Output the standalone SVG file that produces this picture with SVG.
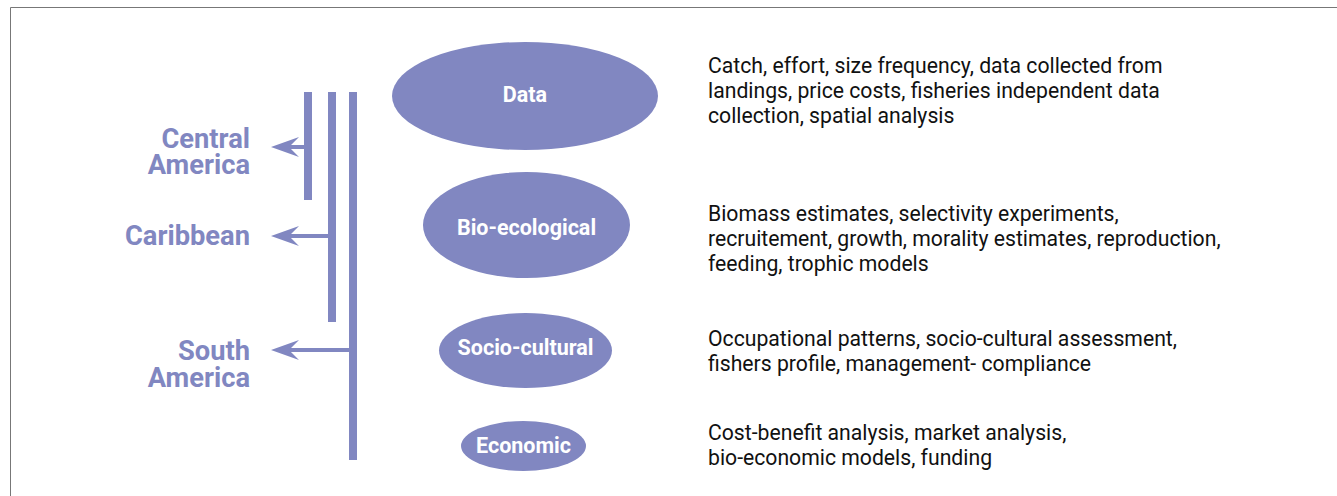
<svg xmlns="http://www.w3.org/2000/svg" width="1337" height="496" viewBox="0 0 1337 496">
<style>
.bar{fill:#8187c1}
.shaft{stroke:#8187c1;stroke-width:4;fill:none}
.head{fill:#8187c1}
.region{font-family:Roboto,"Liberation Sans",sans-serif;font-weight:700;font-size:27.3px;fill:#8187c1;text-anchor:end}
.ell{fill:#8187c1}
.lbl{font-family:Roboto,"Liberation Sans",sans-serif;font-weight:700;font-size:21.5px;fill:#ffffff;text-anchor:middle}
.desc{font-family:Roboto,"Liberation Sans",sans-serif;font-size:21.2px;fill:#111111}
</style>
<rect x="0" y="0" width="1337" height="496" fill="#ffffff"/>
<path d="M10.5 496 V7.5 H1337" fill="none" stroke="#777777" stroke-width="1"/>
<g id="connectors">
<rect class="bar" x="304" y="92" width="8" height="108"/>
<rect class="bar" x="328" y="92" width="8" height="230"/>
<rect class="bar" x="349" y="92" width="8" height="368"/>
<line class="shaft" x1="287" y1="147" x2="306" y2="147"/>
<path class="head" d="M271 147 L299 137 L289 147 L299 157 Z"/>
<line class="shaft" x1="287" y1="236" x2="330" y2="236"/>
<path class="head" d="M271 236 L299 226 L289 236 L299 246 Z"/>
<line class="shaft" x1="287" y1="350" x2="351" y2="350"/>
<path class="head" d="M271 350 L299 340 L289 350 L299 360 Z"/>
</g>
<g id="central-america"><text class="region" x="250" y="148">Central</text><text class="region" x="250" y="174">America</text></g>
<g id="caribbean"><text class="region" x="250" y="245">Caribbean</text></g>
<g id="south-america"><text class="region" x="250" y="360">South</text><text class="region" x="250" y="387">America</text></g>
<g id="data"><ellipse class="ell" cx="525" cy="96" rx="133" ry="54"/><text class="lbl" x="525" y="102">Data</text></g>
<g id="bio-ecological"><ellipse class="ell" cx="526.5" cy="225" rx="103.5" ry="53"/><text class="lbl" x="526.5" y="235">Bio-ecological</text></g>
<g id="socio-cultural"><ellipse class="ell" cx="525.5" cy="350.5" rx="86.5" ry="37.5"/><text class="lbl" x="525.5" y="355">Socio-cultural</text></g>
<g id="economic"><ellipse class="ell" cx="523.5" cy="446" rx="62.5" ry="25"/><text class="lbl" x="523.5" y="453">Economic</text></g>
<g id="desc-data"><text class="desc" x="708" y="73">Catch, effort, size frequency, data collected from</text><text class="desc" x="708" y="98">landings, price costs, fisheries independent data</text><text class="desc" x="708" y="123">collection, spatial analysis</text></g>
<g id="desc-bio"><text class="desc" x="708" y="221">Biomass estimates, selectivity experiments,</text><text class="desc" x="708" y="246">recruitement, growth, morality estimates, reproduction,</text><text class="desc" x="708" y="271">feeding, trophic models</text></g>
<g id="desc-socio"><text class="desc" x="708" y="346">Occupational patterns, socio-cultural assessment,</text><text class="desc" x="708" y="371">fishers profile, management- compliance</text></g>
<g id="desc-econ"><text class="desc" x="708" y="440">Cost-benefit analysis, market analysis,</text><text class="desc" x="708" y="465">bio-economic models, funding</text></g>
</svg>
